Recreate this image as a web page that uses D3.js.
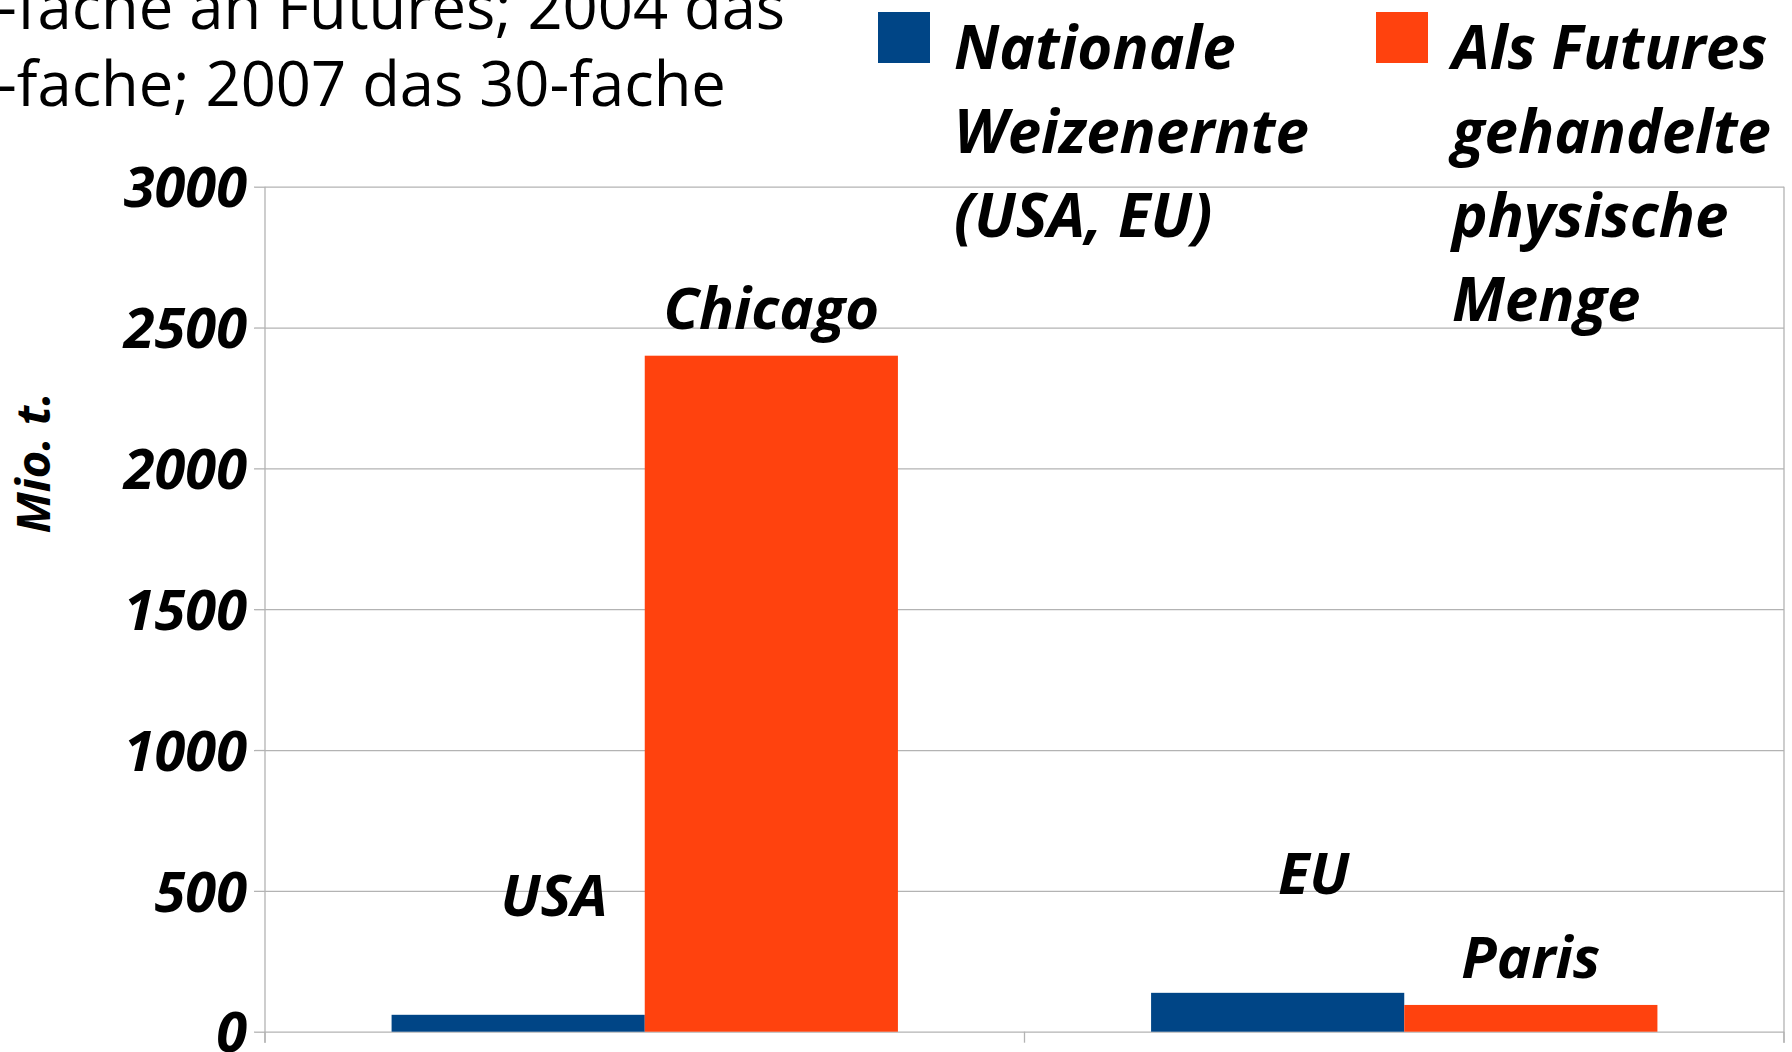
<!DOCTYPE html>
<html>
<head>
<meta charset="utf-8">
<script src="https://cdn.jsdelivr.net/npm/d3@7"></script>
<style>
  html, body { margin: 0; padding: 0; background: #ffffff; overflow: hidden; }
  svg { display: block; }
  text { font-family: "Open Sans", "Noto Sans", sans-serif; fill: #000; }
</style>
</head>
<body>
<svg id="chart" width="1792" height="1052"></svg>
<script>
// ---- data ----
const categories = ["USA / Chicago", "EU / Paris"];
const seriesNames = ["Nationale Weizenernte (USA, EU)", "Als Futures gehandelte physische Menge"];
const nationalHarvest = [60, 138];      // Mio. t.
const futuresVolume = [2400, 95];       // Mio. t.
const pointLabels = [["USA", "EU"], ["Chicago", "Paris"]];
const yTicks = [0, 500, 1000, 1500, 2000, 2500, 3000];
const legendLines = [["Nationale", "Weizenernte", "(USA, EU)"], ["Als Futures", "gehandelte", "physische", "Menge"]];
const titleLines = ["-fache an Futures; 2004 das", "-fache; 2007 das 30-fache"];
const yAxisTitle = "Mio. t.";

// ---- layout / style ----
const colors = ["#004586", "#ff420e"];
const gridColor = "#b3b3b3";
const plot = { left: 265, right: 1784, top: 186.7, bottom: 1031.7 };

const svg = d3.select("#chart");
svg.append("rect").attr("width", 1792).attr("height", 1052).attr("fill", "#fff");

const y = d3.scaleLinear().domain([0, 3000]).range([plot.bottom, plot.top]);
const x0 = d3.scaleBand().domain(categories).range([plot.left, plot.right]).padding(0);
const x1 = d3.scaleBand().domain([0, 1]).range([0, x0.bandwidth()]).paddingInner(0).paddingOuter(0.5);

// gridlines
const grid = svg.append("g").attr("transform", `translate(${plot.left},0)`)
  .call(d3.axisLeft(y).tickValues(yTicks).tickSize(-(plot.right - plot.left)).tickFormat(""));
grid.select(".domain").remove();
grid.selectAll("line").attr("stroke", gridColor).attr("stroke-width", 1.3);

// y axis with outward ticks and labels
const yAxis = svg.append("g").attr("transform", `translate(${plot.left},0)`)
  .call(d3.axisLeft(y).tickValues(yTicks).tickSizeInner(11).tickSizeOuter(0).tickPadding(7).tickFormat(d3.format("d")));
yAxis.select(".domain").attr("stroke", gridColor).attr("stroke-width", 1.3)
  .attr("d", `M0,${plot.top}V${plot.bottom + 11}`);
yAxis.selectAll(".tick line").attr("stroke", gridColor).attr("stroke-width", 1.3);
yAxis.selectAll(".tick text")
  .attr("font-family", "'Open Sans', sans-serif")
  .attr("font-size", 56).attr("font-weight", 700).attr("font-style", "italic")
  .attr("fill", "#000").attr("dy", "0.36em");

// right border
svg.append("line").attr("x1", plot.right).attr("x2", plot.right)
  .attr("y1", plot.top).attr("y2", plot.bottom + 11)
  .attr("stroke", gridColor).attr("stroke-width", 1.3);

// bottom category ticks
const xAxis = svg.append("g").attr("transform", `translate(0,${plot.bottom})`);
const boundaries = categories.map(c => x0(c)).concat([plot.right]);
xAxis.selectAll("line.sep").data(boundaries).enter().append("line")
  .attr("x1", d => d).attr("x2", d => d).attr("y1", 0).attr("y2", 11)
  .attr("stroke", gridColor).attr("stroke-width", 1.3);

// bars
const seriesValues = [nationalHarvest, futuresVolume];
const barData = [];
categories.forEach((c, ci) => {
  seriesValues.forEach((vals, si) => {
    barData.push({ cat: c, ci, si, value: vals[ci], label: pointLabels[si][ci] });
  });
});

svg.append("g").selectAll("rect").data(barData).enter().append("rect")
  .attr("x", d => x0(d.cat) + x1(d.si))
  .attr("y", d => y(d.value))
  .attr("width", x1.bandwidth())
  .attr("height", d => y(0) - y(d.value))
  .attr("fill", d => colors[d.si]);

// data labels (series offsets)
const labelOffset = [{ dx: 36, dy: -99 }, { dx: 0, dy: -27 }];
svg.append("g").selectAll("text").data(barData).enter().append("text")
  .attr("x", d => x0(d.cat) + x1(d.si) + x1.bandwidth() / 2 + labelOffset[d.si].dx)
  .attr("y", d => y(d.value) + labelOffset[d.si].dy)
  .attr("text-anchor", "middle")
  .attr("font-size", 58).attr("font-weight", 700).attr("font-style", "italic")
  .text(d => d.label);

// y axis title
svg.append("text")
  .attr("transform", "translate(50,463) rotate(-90)")
  .attr("text-anchor", "middle")
  .attr("font-size", 47).attr("font-weight", 700).attr("font-style", "italic")
  .text(yAxisTitle);

// legend
const legendX = [878, 1376];
const legend = svg.append("g");
legendLines.forEach((lines, si) => {
  legend.append("rect").attr("x", legendX[si]).attr("y", 12).attr("width", 52).attr("height", 51)
    .attr("fill", colors[si]);
  const t = legend.append("text")
    .attr("font-size", 60).attr("font-weight", 700).attr("font-style", "italic");
  lines.forEach((ln, li) => {
    t.append("tspan").attr("x", legendX[si] + 76).attr("y", 69 + li * 84).text(ln);
  });
});

// title (cropped)
const title = svg.append("text").attr("font-size", 61.5).attr("font-weight", 400);
titleLines.forEach((ln, i) => {
  title.append("tspan").attr("x", -3).attr("y", 29 + i * 77).text(ln);
});
</script>
</body>
</html>
